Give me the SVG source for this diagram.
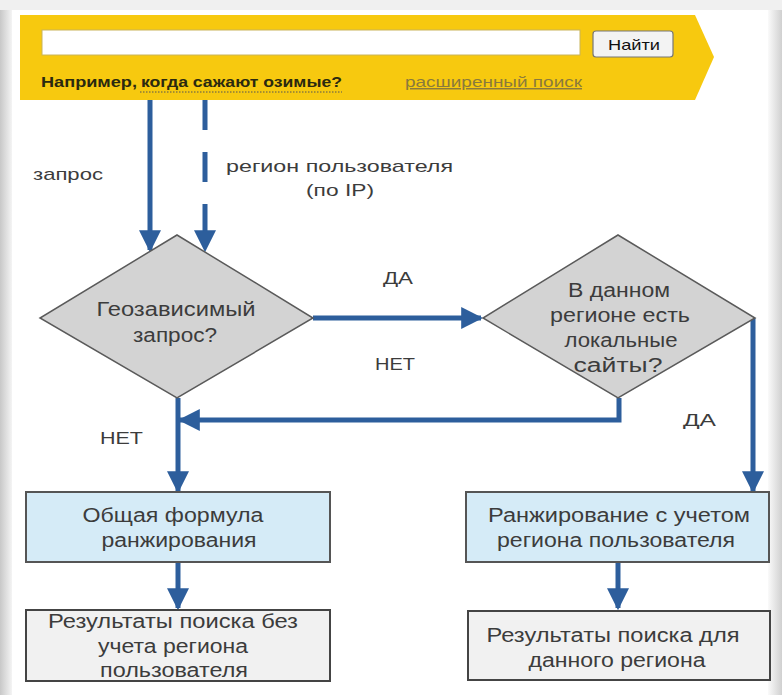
<svg xmlns="http://www.w3.org/2000/svg" width="782" height="695" viewBox="0 0 782 695">
<defs>
<style>
text{font-family:"Liberation Sans",Arial,sans-serif;fill:#3c3c3c}
.t{font-size:19.5px;text-anchor:middle}
.l{font-size:17px}
.c{stroke:#2d5e9c;stroke-width:5;fill:none}
.dia{fill:#d3d3d3;stroke:#5a5a5a;stroke-width:1.5}
.blue{fill:#d5ebf7;stroke:#555;stroke-width:2}
.gray{fill:#f1f1f1;stroke:#444;stroke-width:2}
</style>
<marker id="ah" viewBox="0 0 10 10" refX="9" refY="5" markerWidth="4.4" markerHeight="4.4" orient="auto" markerUnits="strokeWidth">
<path d="M0,0 L10,5 L0,10 Z" fill="#2d5e9c"/>
</marker>
<linearGradient id="lg" x1="0" x2="1" y1="0" y2="0"><stop offset="0" stop-color="#c8c8c8"/><stop offset="1" stop-color="#f4f4f4"/></linearGradient>
<linearGradient id="rg" x1="1" x2="0" y1="0" y2="0"><stop offset="0" stop-color="#d0d0d0"/><stop offset="1" stop-color="#fafafa"/></linearGradient>
</defs>
<rect width="782" height="695" fill="#ffffff"/>
<rect x="0" y="0" width="12" height="695" fill="url(#lg)"/>
<rect x="768" y="0" width="14" height="695" fill="url(#rg)"/>
<rect x="0" y="0" width="782" height="10" fill="#f0f0f0"/>

<g id="searchbar">
<polygon points="20,15 695,15 714,57 695,100 20,100" fill="#f7c90f"/>
<rect x="42" y="30" width="538" height="25" fill="#ffffff" stroke="#c9b45a" stroke-width="1"/>
<rect x="593" y="31" width="80" height="26" rx="3" fill="#f3f3f3" stroke="#777" stroke-width="1.2"/>
<text x="634" y="50" textLength="52" lengthAdjust="spacingAndGlyphs" style="font-size:15px;text-anchor:middle;fill:#111">Найти</text>
<text x="41" y="87" textLength="96" lengthAdjust="spacingAndGlyphs" style="font-size:14.5px;font-weight:bold;fill:#2a2a10">Например,</text>
<text x="141" y="87" textLength="201" lengthAdjust="spacingAndGlyphs" style="font-size:14.5px;font-weight:bold;fill:#2a2a10">когда сажают озимые?</text>
<line x1="140" y1="92" x2="342" y2="92" stroke="#555" stroke-width="1" stroke-dasharray="1.5,1.5"/>
<text x="405" y="87" textLength="177" lengthAdjust="spacingAndGlyphs" style="font-size:14.5px;fill:#8a7a3c" text-decoration="underline">расширенный поиск</text>
</g>

<g id="connectors">
<line class="c" x1="150" y1="100" x2="150" y2="250" marker-end="url(#ah)"/>
<line class="c" x1="205" y1="100" x2="205" y2="250" stroke-dasharray="30,22" marker-end="url(#ah)"/>
<line class="c" x1="313" y1="318" x2="481" y2="318" marker-end="url(#ah)"/>
<polyline class="c" points="619,398 619,420 180,420" marker-end="url(#ah)"/>
<line class="c" x1="178" y1="398" x2="178" y2="491" marker-end="url(#ah)"/>
<line class="c" x1="753" y1="318" x2="753" y2="491" marker-end="url(#ah)"/>
<line class="c" x1="178" y1="562" x2="178" y2="608" marker-end="url(#ah)"/>
<line class="c" x1="618" y1="562" x2="618" y2="608" marker-end="url(#ah)"/>
</g>

<g id="labels">
<text class="l" x="33" y="180" textLength="70" lengthAdjust="spacingAndGlyphs">запрос</text>
<text class="l" x="226" y="172" textLength="227" lengthAdjust="spacingAndGlyphs">регион пользователя</text>
<text class="l" x="306" y="196" textLength="68" lengthAdjust="spacingAndGlyphs">(по IP)</text>
<text class="l" x="383" y="284" textLength="30" lengthAdjust="spacingAndGlyphs">ДА</text>
<text class="l" x="375" y="370" textLength="40" lengthAdjust="spacingAndGlyphs">НЕТ</text>
<text class="l" x="100" y="444" textLength="43" lengthAdjust="spacingAndGlyphs">НЕТ</text>
<text class="l" x="683" y="426" textLength="33" lengthAdjust="spacingAndGlyphs">ДА</text>
</g>

<g id="geo">
<polygon class="dia" points="177,235 313,318 177,398 40,318"/>
<text class="t" x="176" y="316" textLength="159" lengthAdjust="spacingAndGlyphs">Геозависимый</text>
<text class="t" x="175" y="342" textLength="84" lengthAdjust="spacingAndGlyphs">запрос?</text>
</g>

<g id="local">
<polygon class="dia" points="618,235 755,318 618,398 483,318"/>
<text class="t" x="619" y="297" textLength="102" lengthAdjust="spacingAndGlyphs">В данном</text>
<text class="t" x="620" y="322" textLength="140" lengthAdjust="spacingAndGlyphs">регионе есть</text>
<text class="t" x="621" y="347" textLength="113" lengthAdjust="spacingAndGlyphs">локальные</text>
<text class="t" x="618" y="372" textLength="89" lengthAdjust="spacingAndGlyphs">сайты?</text>
</g>

<g id="general">
<rect class="blue" x="26" y="492" width="304" height="70"/>
<text class="t" x="173" y="522" textLength="181" lengthAdjust="spacingAndGlyphs">Общая формула</text>
<text class="t" x="179" y="547" textLength="155" lengthAdjust="spacingAndGlyphs">ранжирования</text>
</g>

<g id="regional">
<rect class="blue" x="466" y="492" width="303" height="70"/>
<text class="t" x="619" y="522" textLength="262" lengthAdjust="spacingAndGlyphs">Ранжирование с учетом</text>
<text class="t" x="616" y="547" textLength="238" lengthAdjust="spacingAndGlyphs">региона пользователя</text>
</g>

<g id="res1">
<rect class="gray" x="26" y="610" width="304" height="71"/>
<text class="t" x="173" y="628" textLength="250" lengthAdjust="spacingAndGlyphs">Результаты поиска без</text>
<text class="t" x="173" y="653" textLength="150" lengthAdjust="spacingAndGlyphs">учета региона</text>
<text class="t" x="174" y="677" textLength="148" lengthAdjust="spacingAndGlyphs">пользователя</text>
</g>

<g id="res2">
<rect class="gray" x="468" y="611" width="302" height="69"/>
<text class="t" x="613" y="642" textLength="253" lengthAdjust="spacingAndGlyphs">Результаты поиска для</text>
<text class="t" x="617" y="667" textLength="177" lengthAdjust="spacingAndGlyphs">данного региона</text>
</g>
</svg>
